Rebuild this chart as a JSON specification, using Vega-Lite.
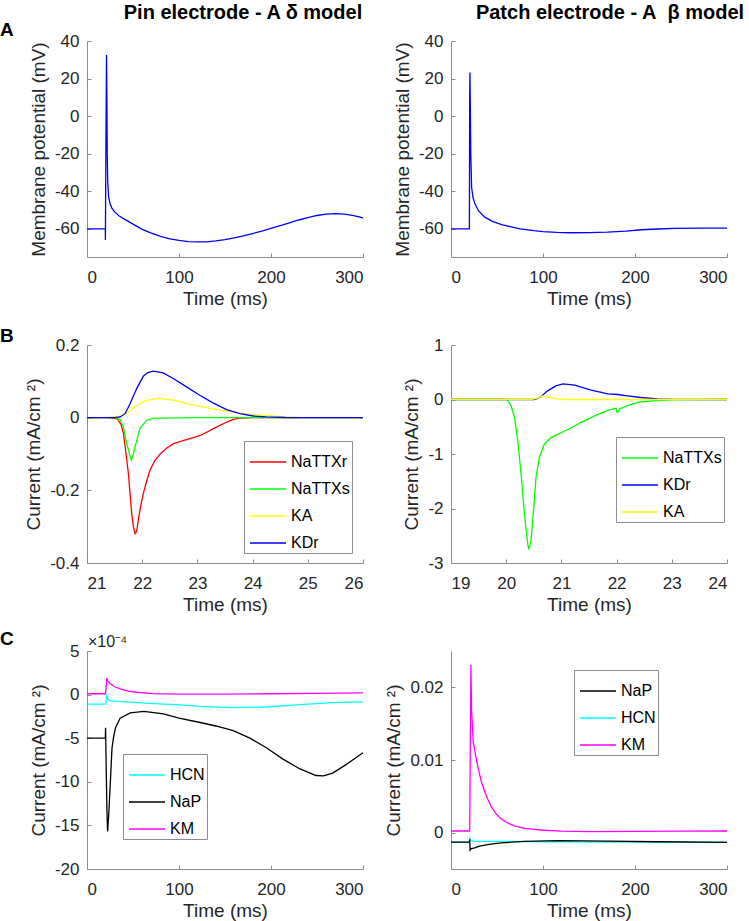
{
"$schema": "https://vega.github.io/schema/vega-lite/v6.json",
"background": "white",
"autosize": {"type": "pad"},
"padding": {"left": 0, "top": 2, "right": 5, "bottom": 5},
"config": {
  "font": "Liberation Sans",
  "view": {"stroke": null},
  "axis": {"grid": false, "domainColor": "#8c8c8c", "tickColor": "#8c8c8c", "tickSize": -4, "labelFontSize": 17, "labelColor": "#262626", "titleFontSize": 19, "titleFontWeight": "normal", "titleColor": "#262626", "labelFont": "Liberation Sans", "titleFont": "Liberation Sans"},
  "axisX": {"labelPadding": 16, "titlePadding": 4},
  "axisY": {"labelPadding": 12, "titlePadding": 6},
  "legend": {"orient": "none", "title": null, "fillColor": "white", "strokeColor": "#8c8c8c", "padding": 2, "rowPadding": -6, "labelFontSize": 16, "labelColor": "black", "labelOffset": 4, "symbolOffset": 3, "symbolType": "stroke", "symbolSize": 1296, "symbolStrokeWidth": 1.3, "labelFont": "Liberation Sans"},
  "title": {"fontSize": 20, "fontWeight": "bold", "color": "black", "font": "Liberation Sans"},
  "line": {"strokeWidth": 1.3, "clip": true}
},
"title": {"text": "A", "anchor": "start", "frame": "group", "dx": -87, "dy": 41, "fontSize": 19},
"datasets": {
  "a_left": [
    {"t":0,"v":-60},{"t":19.9,"v":-60},{"t":20,"v":-66},{"t":20.5,"v":-20},{"t":21.2,"v":32.5},{"t":21.6,"v":10},{"t":22,"v":-20},{"t":22.5,"v":-35},{"t":23.5,"v":-43},{"t":25,"v":-46.5},{"t":27,"v":-49},{"t":30,"v":-51},{"t":35,"v":-53.2},{"t":43,"v":-55.5},{"t":50,"v":-57.5},{"t":60,"v":-60.3},{"t":70,"v":-62.3},{"t":80,"v":-64},{"t":90,"v":-65.3},{"t":100,"v":-66.2},{"t":110,"v":-66.8},{"t":120,"v":-67},{"t":130,"v":-66.9},{"t":140,"v":-66.4},{"t":150,"v":-65.7},{"t":160,"v":-64.8},{"t":170,"v":-63.7},{"t":180,"v":-62.5},{"t":190,"v":-61.2},{"t":200,"v":-59.8},{"t":210,"v":-58.3},{"t":220,"v":-56.8},{"t":230,"v":-55.3},{"t":240,"v":-54},{"t":250,"v":-52.9},{"t":260,"v":-52.2},{"t":270,"v":-51.9},{"t":280,"v":-52.2},{"t":290,"v":-53},{"t":300,"v":-54.2}
  ],
  "a_right": [
    {"t":0,"v":-60},{"t":20,"v":-60},{"t":20.3,"v":10},{"t":20.6,"v":23.2},{"t":21,"v":5},{"t":21.5,"v":-20},{"t":22.4,"v":-38},{"t":24,"v":-43.5},{"t":26,"v":-46.7},{"t":30,"v":-50.5},{"t":36.8,"v":-53.8},{"t":45,"v":-56},{"t":55,"v":-57.8},{"t":62,"v":-58.6},{"t":75,"v":-60},{"t":90,"v":-61},{"t":100,"v":-61.5},{"t":115,"v":-61.9},{"t":130,"v":-62.1},{"t":150,"v":-62},{"t":170,"v":-61.8},{"t":190,"v":-61.2},{"t":207,"v":-60.5},{"t":225,"v":-60.1},{"t":243,"v":-59.8},{"t":270,"v":-59.6},{"t":300,"v":-59.6}
  ],
  "b_left": [
    {"s":"NaTTXr","t":21,"v":0},{"s":"NaTTXr","t":21.4,"v":0},{"s":"NaTTXr","t":21.55,"v":-0.003},{"s":"NaTTXr","t":21.62,"v":-0.02},{"s":"NaTTXr","t":21.66,"v":-0.044},{"s":"NaTTXr","t":21.7,"v":-0.09},{"s":"NaTTXr","t":21.75,"v":-0.154},{"s":"NaTTXr","t":21.81,"v":-0.264},{"s":"NaTTXr","t":21.84,"v":-0.3},{"s":"NaTTXr","t":21.87,"v":-0.319},{"s":"NaTTXr","t":21.9,"v":-0.312},{"s":"NaTTXr","t":21.93,"v":-0.282},{"s":"NaTTXr","t":21.97,"v":-0.245},{"s":"NaTTXr","t":22.02,"v":-0.209},{"s":"NaTTXr","t":22.08,"v":-0.175},{"s":"NaTTXr","t":22.14,"v":-0.145},{"s":"NaTTXr","t":22.23,"v":-0.118},{"s":"NaTTXr","t":22.33,"v":-0.099},{"s":"NaTTXr","t":22.45,"v":-0.083},{"s":"NaTTXr","t":22.57,"v":-0.0715},{"s":"NaTTXr","t":22.7,"v":-0.065},{"s":"NaTTXr","t":22.81,"v":-0.06},{"s":"NaTTXr","t":22.93,"v":-0.055},{"s":"NaTTXr","t":23.05,"v":-0.049},{"s":"NaTTXr","t":23.17,"v":-0.04},{"s":"NaTTXr","t":23.29,"v":-0.03},{"s":"NaTTXr","t":23.41,"v":-0.021},{"s":"NaTTXr","t":23.53,"v":-0.012},{"s":"NaTTXr","t":23.65,"v":-0.005},{"s":"NaTTXr","t":23.77,"v":-0.001},{"s":"NaTTXr","t":24,"v":0},{"s":"NaTTXr","t":26,"v":0},
    {"s":"NaTTXs","t":21,"v":0},{"s":"NaTTXs","t":21.5,"v":0},{"s":"NaTTXs","t":21.6,"v":-0.005},{"s":"NaTTXs","t":21.66,"v":-0.026},{"s":"NaTTXs","t":21.72,"v":-0.072},{"s":"NaTTXs","t":21.8,"v":-0.116},{"s":"NaTTXs","t":21.84,"v":-0.1},{"s":"NaTTXs","t":21.87,"v":-0.081},{"s":"NaTTXs","t":21.96,"v":-0.03},{"s":"NaTTXs","t":22.08,"v":-0.007},{"s":"NaTTXs","t":22.2,"v":-0.002},{"s":"NaTTXs","t":22.33,"v":-0.001},{"s":"NaTTXs","t":23,"v":0},{"s":"NaTTXs","t":26,"v":0},
    {"s":"KA","t":21,"v":0},{"s":"KA","t":21.3,"v":0},{"s":"KA","t":21.6,"v":0.004},{"s":"KA","t":21.72,"v":0.013},{"s":"KA","t":21.84,"v":0.0275},{"s":"KA","t":22.02,"v":0.045},{"s":"KA","t":22.27,"v":0.053},{"s":"KA","t":22.57,"v":0.048},{"s":"KA","t":22.81,"v":0.0385},{"s":"KA","t":23.05,"v":0.031},{"s":"KA","t":23.35,"v":0.022},{"s":"KA","t":23.65,"v":0.015},{"s":"KA","t":23.95,"v":0.009},{"s":"KA","t":24.25,"v":0.0055},{"s":"KA","t":24.55,"v":0.003},{"s":"KA","t":24.86,"v":0.001},{"s":"KA","t":25.3,"v":0.0003},{"s":"KA","t":26,"v":0},
    {"s":"KDr","t":21,"v":0},{"s":"KDr","t":21.5,"v":0},{"s":"KDr","t":21.6,"v":0.002},{"s":"KDr","t":21.69,"v":0.011},{"s":"KDr","t":21.78,"v":0.0385},{"s":"KDr","t":21.9,"v":0.08},{"s":"KDr","t":22.02,"v":0.114},{"s":"KDr","t":22.1,"v":0.124},{"s":"KDr","t":22.2,"v":0.128},{"s":"KDr","t":22.38,"v":0.123},{"s":"KDr","t":22.57,"v":0.107},{"s":"KDr","t":22.81,"v":0.084},{"s":"KDr","t":23.05,"v":0.061},{"s":"KDr","t":23.29,"v":0.04},{"s":"KDr","t":23.53,"v":0.022},{"s":"KDr","t":23.77,"v":0.011},{"s":"KDr","t":24.01,"v":0.0046},{"s":"KDr","t":24.25,"v":0.002},{"s":"KDr","t":24.6,"v":0.0005},{"s":"KDr","t":26,"v":0}
  ],
  "b_right": [
    {"s":"NaTTXs","t":19,"v":0},{"s":"NaTTXs","t":20,"v":0},{"s":"NaTTXs","t":20.03,"v":-0.02},{"s":"NaTTXs","t":20.09,"v":-0.12},{"s":"NaTTXs","t":20.15,"v":-0.33},{"s":"NaTTXs","t":20.21,"v":-0.76},{"s":"NaTTXs","t":20.27,"v":-1.37},{"s":"NaTTXs","t":20.33,"v":-2.1},{"s":"NaTTXs","t":20.39,"v":-2.65},{"s":"NaTTXs","t":20.41,"v":-2.75},{"s":"NaTTXs","t":20.45,"v":-2.59},{"s":"NaTTXs","t":20.5,"v":-1.98},{"s":"NaTTXs","t":20.54,"v":-1.43},{"s":"NaTTXs","t":20.6,"v":-1.06},{"s":"NaTTXs","t":20.69,"v":-0.82},{"s":"NaTTXs","t":20.81,"v":-0.7},{"s":"NaTTXs","t":20.95,"v":-0.63},{"s":"NaTTXs","t":21.12,"v":-0.55},{"s":"NaTTXs","t":21.36,"v":-0.42},{"s":"NaTTXs","t":21.6,"v":-0.3},{"s":"NaTTXs","t":21.84,"v":-0.2},{"s":"NaTTXs","t":21.99,"v":-0.16},{"s":"NaTTXs","t":22.01,"v":-0.24},{"s":"NaTTXs","t":22.06,"v":-0.17},{"s":"NaTTXs","t":22.26,"v":-0.09},{"s":"NaTTXs","t":22.44,"v":-0.045},{"s":"NaTTXs","t":22.74,"v":-0.018},{"s":"NaTTXs","t":23.04,"v":-0.006},{"s":"NaTTXs","t":23.5,"v":-0.001},{"s":"NaTTXs","t":24,"v":0},
    {"s":"KDr","t":19,"v":0},{"s":"KDr","t":20.5,"v":0},{"s":"KDr","t":20.55,"v":0.01},{"s":"KDr","t":20.63,"v":0.049},{"s":"KDr","t":20.75,"v":0.159},{"s":"KDr","t":20.9,"v":0.25},{"s":"KDr","t":21.03,"v":0.287},{"s":"KDr","t":21.24,"v":0.263},{"s":"KDr","t":21.54,"v":0.171},{"s":"KDr","t":21.84,"v":0.104},{"s":"KDr","t":22.02,"v":0.092},{"s":"KDr","t":22.2,"v":0.067},{"s":"KDr","t":22.44,"v":0.037},{"s":"KDr","t":22.74,"v":0.012},{"s":"KDr","t":23.04,"v":0.003},{"s":"KDr","t":23.5,"v":0},{"s":"KDr","t":24,"v":0},
    {"s":"KA","t":19,"v":0},{"s":"KA","t":20.45,"v":0},{"s":"KA","t":20.57,"v":0.024},{"s":"KA","t":20.66,"v":0.067},{"s":"KA","t":20.75,"v":0.049},{"s":"KA","t":20.9,"v":0.012},{"s":"KA","t":21.05,"v":0},{"s":"KA","t":24,"v":0}
  ],
  "c_left": [
    {"s":"KM","t":0,"v":0.1},{"s":"KM","t":20.2,"v":0.1},{"s":"KM","t":21.5,"v":1.9},{"s":"KM","t":22.5,"v":1.6},{"s":"KM","t":25.4,"v":1.23},{"s":"KM","t":30,"v":0.9},{"s":"KM","t":36.2,"v":0.65},{"s":"KM","t":45,"v":0.4},{"s":"KM","t":54.3,"v":0.27},{"s":"KM","t":72.5,"v":0.12},{"s":"KM","t":100,"v":0.05},{"s":"KM","t":150,"v":0.05},{"s":"KM","t":200,"v":0.1},{"s":"KM","t":250,"v":0.15},{"s":"KM","t":300,"v":0.2},
    {"s":"HCN","t":0,"v":-1.1},{"s":"HCN","t":20,"v":-1.1},{"s":"HCN","t":20.5,"v":-1.0},{"s":"HCN","t":21.5,"v":0},{"s":"HCN","t":22.5,"v":-0.5},{"s":"HCN","t":24.5,"v":-0.69},{"s":"HCN","t":30,"v":-0.75},{"s":"HCN","t":43.5,"v":-0.84},{"s":"HCN","t":72.5,"v":-1.03},{"s":"HCN","t":97,"v":-1.15},{"s":"HCN","t":123,"v":-1.35},{"s":"HCN","t":159,"v":-1.5},{"s":"HCN","t":195,"v":-1.42},{"s":"HCN","t":231,"v":-1.15},{"s":"HCN","t":267,"v":-0.92},{"s":"HCN","t":300,"v":-0.84},
    {"s":"NaP","t":0,"v":-5},{"s":"NaP","t":19.9,"v":-5},{"s":"NaP","t":20.2,"v":-3.8},{"s":"NaP","t":20.8,"v":-8},{"s":"NaP","t":21.6,"v":-13},{"s":"NaP","t":22.4,"v":-15.7},{"s":"NaP","t":23.5,"v":-14},{"s":"NaP","t":25.4,"v":-10},{"s":"NaP","t":27.2,"v":-6.1},{"s":"NaP","t":29,"v":-4.8},{"s":"NaP","t":31,"v":-3.8},{"s":"NaP","t":36,"v":-2.7},{"s":"NaP","t":47,"v":-2.1},{"s":"NaP","t":62,"v":-1.92},{"s":"NaP","t":83,"v":-2.22},{"s":"NaP","t":100,"v":-2.7},{"s":"NaP","t":123,"v":-3.2},{"s":"NaP","t":140,"v":-3.6},{"s":"NaP","t":159,"v":-4.14},{"s":"NaP","t":177,"v":-5},{"s":"NaP","t":195,"v":-6.1},{"s":"NaP","t":213,"v":-7.4},{"s":"NaP","t":231,"v":-8.5},{"s":"NaP","t":249,"v":-9.28},{"s":"NaP","t":257,"v":-9.32},{"s":"NaP","t":267,"v":-9.0},{"s":"NaP","t":282,"v":-8.0},{"s":"NaP","t":300,"v":-6.67}
  ],
  "c_right": [
    {"s":"HCN","t":0,"v":-0.0013},{"s":"HCN","t":20,"v":-0.0013},{"s":"HCN","t":20.6,"v":-0.0008},{"s":"HCN","t":21.5,"v":-0.0011},{"s":"HCN","t":25,"v":-0.0012},{"s":"HCN","t":50,"v":-0.0012},{"s":"HCN","t":100,"v":-0.00125},{"s":"HCN","t":200,"v":-0.0013},{"s":"HCN","t":300,"v":-0.0013},
    {"s":"NaP","t":0,"v":-0.0013},{"s":"NaP","t":20,"v":-0.0013},{"s":"NaP","t":20.3,"v":-0.0009},{"s":"NaP","t":20.8,"v":-0.0024},{"s":"NaP","t":22,"v":-0.0022},{"s":"NaP","t":26,"v":-0.0021},{"s":"NaP","t":30,"v":-0.0019},{"s":"NaP","t":36.8,"v":-0.0017},{"s":"NaP","t":45,"v":-0.00155},{"s":"NaP","t":54.8,"v":-0.0014},{"s":"NaP","t":80,"v":-0.0012},{"s":"NaP","t":116,"v":-0.0011},{"s":"NaP","t":170,"v":-0.00116},{"s":"NaP","t":224,"v":-0.00125},{"s":"NaP","t":300,"v":-0.00134},
    {"s":"KM","t":0,"v":0.00023},{"s":"KM","t":20.3,"v":0.00023},{"s":"KM","t":21.6,"v":0.0231},{"s":"KM","t":22.4,"v":0.0167},{"s":"KM","t":24.2,"v":0.0125},{"s":"KM","t":26.5,"v":0.0108},{"s":"KM","t":29.6,"v":0.0088},{"s":"KM","t":33,"v":0.007},{"s":"KM","t":36.8,"v":0.0056},{"s":"KM","t":40,"v":0.0046},{"s":"KM","t":44,"v":0.0035},{"s":"KM","t":49,"v":0.0026},{"s":"KM","t":54.8,"v":0.00185},{"s":"KM","t":62,"v":0.0013},{"s":"KM","t":69.2,"v":0.00093},{"s":"KM","t":80,"v":0.0006},{"s":"KM","t":98,"v":0.00037},{"s":"KM","t":120,"v":0.00022},{"s":"KM","t":150,"v":0.00015},{"s":"KM","t":200,"v":0.00018},{"s":"KM","t":250,"v":0.0002},{"s":"KM","t":300,"v":0.00023}
  ]
},
"columns": 2,
"spacing": {"row": 88, "column": 88},
"bounds": "flush",
"resolve": {"scale": {"color": "independent"}, "legend": {"color": "independent"}},
"concat": [
  {
    "title": {"text": "Pin electrode - A δ model", "dx": 18, "offset": 9.5},
    "width": 276, "height": 216,
    "data": {"name": "a_left"},
    "mark": {"type": "line", "color": "#0000ff"},
    "encoding": {
      "x": {"field": "t", "type": "quantitative", "scale": {"domain": [0, 300], "nice": false}, "axis": {"values": [0, 100, 200, 300], "title": "Time (ms)"}},
      "y": {"field": "v", "type": "quantitative", "scale": {"domain": [-75, 40], "nice": false, "zero": false}, "axis": {"values": [-60, -40, -20, 0, 20, 40], "labelExpr": "'' + datum.value", "title": "Membrane potential (mV)"}}
    }
  },
  {
    "title": {"text": "Patch electrode - A\u00a0 β model", "dx": 21, "offset": 9.5},
    "width": 276, "height": 216,
    "data": {"name": "a_right"},
    "mark": {"type": "line", "color": "#0000ff"},
    "encoding": {
      "x": {"field": "t", "type": "quantitative", "scale": {"domain": [0, 300], "nice": false}, "axis": {"values": [0, 100, 200, 300], "title": "Time (ms)"}},
      "y": {"field": "v", "type": "quantitative", "scale": {"domain": [-75, 40], "nice": false, "zero": false}, "axis": {"values": [-60, -40, -20, 0, 20, 40], "labelExpr": "'' + datum.value", "title": "Membrane potential (mV)"}}
    }
  },
  {
    "title": {"text": "B", "anchor": "start", "frame": "group", "dx": -87, "dy": 12, "offset": 2, "fontSize": 19},
    "width": 276, "height": 218,
    "data": {"name": "b_left"},
    "mark": {"type": "line"},
    "encoding": {
      "x": {"field": "t", "type": "quantitative", "scale": {"domain": [21, 26], "nice": false, "zero": false}, "axis": {"values": [21, 22, 23, 24, 25, 26], "title": "Time (ms)"}},
      "y": {"field": "v", "type": "quantitative", "scale": {"domain": [-0.4, 0.2], "nice": false}, "axis": {"values": [-0.4, -0.2, 0, 0.2], "labelExpr": "'' + datum.value", "title": "Current (mA/cm ²)"}},
      "color": {"field": "s", "type": "nominal", "scale": {"domain": ["NaTTXr", "NaTTXs", "KA", "KDr"], "range": ["#ff0000", "#00ff00", "#ffff00", "#0000ff"]}, "legend": {"legendX": 157, "legendY": 96, "rowPadding": -7}}
    }
  },
  {
    "width": 276, "height": 218,
    "data": {"name": "b_right"},
    "mark": {"type": "line"},
    "encoding": {
      "x": {"field": "t", "type": "quantitative", "scale": {"domain": [19, 24], "nice": false, "zero": false}, "axis": {"values": [19, 20, 21, 22, 23, 24], "title": "Time (ms)"}},
      "y": {"field": "v", "type": "quantitative", "scale": {"domain": [-3, 1], "nice": false}, "axis": {"values": [-3, -2, -1, 0, 1], "labelExpr": "'' + datum.value", "title": "Current (mA/cm ²)"}},
      "color": {"field": "s", "type": "nominal", "scale": {"domain": ["NaTTXs", "KDr", "KA"], "range": ["#00ff00", "#0000ff", "#ffff00"]}, "legend": {"legendX": 165, "legendY": 92, "rowPadding": -2}}
    }
  },
  {
    "title": {"text": "C", "anchor": "start", "frame": "group", "dx": -87, "dy": 21, "offset": 6, "fontSize": 19},
    "width": 276, "height": 218,
    "data": {"name": "c_left"},
    "layer": [
      {
        "mark": {"type": "line"},
        "encoding": {
          "x": {"field": "t", "type": "quantitative", "scale": {"domain": [0, 300], "nice": false}, "axis": {"values": [0, 100, 200, 300], "title": "Time (ms)"}},
          "y": {"field": "v", "type": "quantitative", "scale": {"domain": [-20, 5], "nice": false}, "axis": {"values": [-20, -15, -10, -5, 0, 5], "labelExpr": "'' + datum.value", "title": "Current (mA/cm ²)"}},
          "color": {"field": "s", "type": "nominal", "scale": {"domain": ["HCN", "NaP", "KM"], "range": ["#00ffff", "#000000", "#ff00ff"]}, "legend": {"legendX": 36, "legendY": 103, "rowPadding": -4}}
        }
      },
      {
        "data": {"values": [{}]},
        "mark": {"type": "text", "align": "left", "baseline": "alphabetic", "dx": 1, "dy": -4, "fontSize": 16, "color": "#262626", "font": "Liberation Sans"},
        "encoding": {
          "x": {"datum": 0, "type": "quantitative"},
          "y": {"datum": 5, "type": "quantitative"},
          "text": {"value": "×10⁻⁴"}
        }
      }
    ]
  },
  {
    "width": 276, "height": 218,
    "data": {"name": "c_right"},
    "mark": {"type": "line"},
    "encoding": {
      "x": {"field": "t", "type": "quantitative", "scale": {"domain": [0, 300], "nice": false}, "axis": {"values": [0, 100, 200, 300], "title": "Time (ms)"}},
      "y": {"field": "v", "type": "quantitative", "scale": {"domain": [-0.005, 0.025], "nice": false}, "axis": {"values": [0, 0.01, 0.02], "labelExpr": "'' + datum.value", "title": "Current (mA/cm ²)"}},
      "color": {"field": "s", "type": "nominal", "scale": {"domain": ["NaP", "HCN", "KM"], "range": ["#000000", "#00ffff", "#ff00ff"]}, "legend": {"legendX": 123, "legendY": 19}}
    }
  }
]
}
